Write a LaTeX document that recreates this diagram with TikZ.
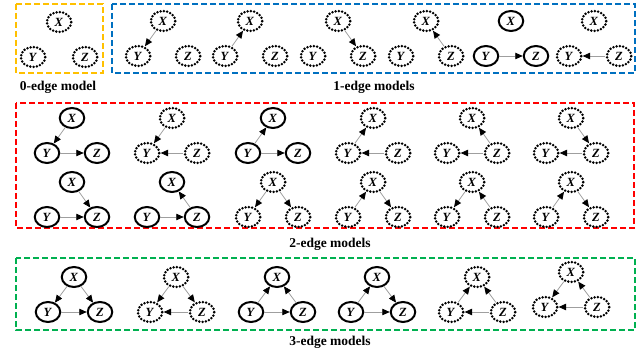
\documentclass[tikz,border=0pt]{standalone}
\usepackage{fontspec}
\setmainfont{Liberation Serif}
\usetikzlibrary{shapes.geometric,arrows.meta}
\definecolor{boxyellow}{HTML}{FFC000}
\definecolor{boxblue}{HTML}{0070C0}
\definecolor{boxred}{HTML}{FF0000}
\definecolor{boxgreen}{HTML}{00B050}
\newcommand\nl[1]{\textbf{\textit{#1}}}
\newcommand\tri[5]{%
  \node[#4] (#1X) at (#2,#3) {\nl{X}};
  \node[#4] (#1Y) at ({#2-#5},{#3+35}) {\nl{Y}};
  \node[#4] (#1Z) at ({#2+#5},{#3+35}) {\nl{Z}};}
\tikzset{
  var/.style={ellipse, minimum width=24.5pt, minimum height=20pt, inner sep=0pt, font=\fontsize{12.5}{12.5}\selectfont},
  sol/.style={var, draw=black, line width=2pt},
  dot/.style={var, draw=black, line width=2.8pt, dash pattern=on 0pt off 3.3pt, line cap=round},
  edge/.style={draw=gray!75, line width=0.8pt, -{Triangle[length=7.5pt,width=6.5pt,black]}},
  frame/.style={line width=1.7pt, dash pattern=on 6pt off 3pt},
  captext/.style={font=\fontsize{13.5}{13.5}\selectfont\bfseries}
}
\begin{document}
\begin{tikzpicture}[x=1pt,y=-1pt]
\useasboundingbox (0,0) rectangle (643,350);
% frames
\draw[frame, boxyellow] (16,4) rectangle (103,73);
\draw[frame, boxblue] (112,4) rectangle (635,73);
\draw[frame, boxred] (16,103) rectangle (634,228);
\draw[frame, boxgreen] (16,258) rectangle (635,330);
% captions
\node[captext] (c0) at (58,87) {0-edge model};
\node[captext] (c1) at (374,87) {1-edge models};
\node[captext] (c2) at (330,244) {2-edge models};
\node[captext] (c3) at (330,342) {3-edge models};
% 0-edge
\tri{z}{59}{22}{dot}{26}
% 1-edge
\tri{a}{163}{21}{dot}{25}
\draw[edge] (aX) -- (aY);
\tri{b}{250}{21}{dot}{25}
\draw[edge] (bY) -- (bX);
\tri{c}{338}{21}{dot}{25}
\draw[edge] (cX) -- (cZ);
\tri{d}{426}{21}{dot}{25}
\draw[edge] (dZ) -- (dX);
\tri{e}{511}{21}{sol}{25}
\draw[edge] (eY) -- (eZ);
\tri{f}{594}{21}{dot}{25}
\draw[edge] (fZ) -- (fY);
% 2-edge, top row
\tri{ra}{72}{118}{sol}{25}
\draw[edge] (raX) -- (raY); \draw[edge] (raY) -- (raZ);
\tri{rb}{172}{118}{dot}{25}
\draw[edge] (rbX) -- (rbY); \draw[edge] (rbZ) -- (rbY);
\tri{rc}{273}{118}{sol}{25}
\draw[edge] (rcY) -- (rcX); \draw[edge] (rcY) -- (rcZ);
\tri{rd}{373}{118}{dot}{25}
\draw[edge] (rdY) -- (rdX); \draw[edge] (rdZ) -- (rdY);
\tri{re}{472}{118}{dot}{25}
\draw[edge] (reZ) -- (reX); \draw[edge] (reZ) -- (reY);
\tri{rf}{571}{118}{dot}{25}
\draw[edge] (rfX) -- (rfZ); \draw[edge] (rfZ) -- (rfY);
% 2-edge, bottom row
\tri{sa}{72}{182}{sol}{25}
\draw[edge] (saX) -- (saZ); \draw[edge] (saY) -- (saZ);
\tri{sb}{172}{182}{sol}{25}
\draw[edge] (sbY) -- (sbZ); \draw[edge] (sbZ) -- (sbX);
\tri{sc}{273}{182}{dot}{25}
\draw[edge] (scX) -- (scY); \draw[edge] (scX) -- (scZ);
\tri{sd}{373}{182}{dot}{25}
\draw[edge] (sdY) -- (sdX); \draw[edge] (sdX) -- (sdZ);
\tri{se}{472}{182}{dot}{25}
\draw[edge] (seX) -- (seY); \draw[edge] (seZ) -- (seX);
\tri{sf}{571}{182}{dot}{25}
\draw[edge] (sfY) -- (sfX); \draw[edge] (sfX) -- (sfZ);
% 3-edge
\tri{ga}{74}{277}{sol}{26}
\draw[edge] (gaX) -- (gaY); \draw[edge] (gaX) -- (gaZ); \draw[edge] (gaY) -- (gaZ);
\tri{gb}{176}{277}{dot}{26}
\draw[edge] (gbX) -- (gbY); \draw[edge] (gbX) -- (gbZ); \draw[edge] (gbZ) -- (gbY);
\tri{gc}{277}{277}{sol}{26}
\draw[edge] (gcY) -- (gcX); \draw[edge] (gcZ) -- (gcX); \draw[edge] (gcY) -- (gcZ);
\tri{gd}{377}{277}{sol}{26}
\draw[edge] (gdY) -- (gdX); \draw[edge] (gdX) -- (gdZ); \draw[edge] (gdY) -- (gdZ);
\tri{ge}{477}{277}{dot}{26}
\draw[edge] (geY) -- (geX); \draw[edge] (geZ) -- (geX); \draw[edge] (geZ) -- (geY);
\tri{gf}{571}{272}{dot}{26}
\draw[edge] (gfX) -- (gfY); \draw[edge] (gfZ) -- (gfX); \draw[edge] (gfZ) -- (gfY);
\end{tikzpicture}
\end{document}
